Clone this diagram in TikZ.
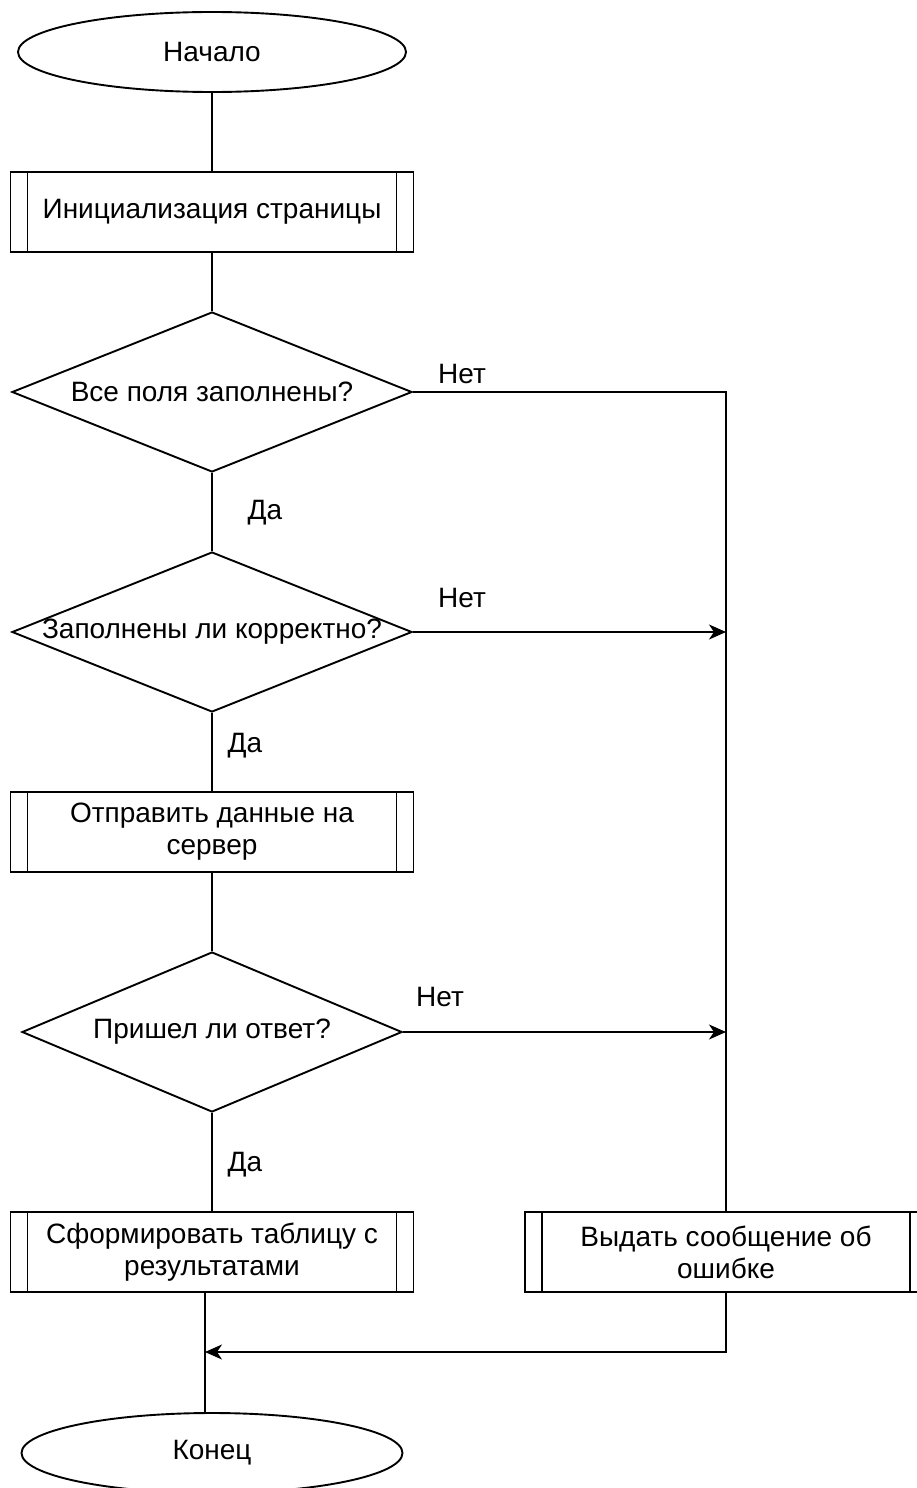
\documentclass[tikz,border=0pt]{standalone}
\usepackage{fontspec}
\setmainfont{Liberation Sans}
\usetikzlibrary{shapes.geometric,arrows.meta}

\tikzset{
	term/.style={shape=ellipse, draw, minimum width=388pt, minimum height=80pt, inner sep=0pt},
	proc/.style={shape=rectangle, draw, minimum width=403pt, minimum height=80pt, inner sep=0pt, align=center,
		path picture={
			\draw ([xshift=17pt]path picture bounding box.north west) -- ([xshift=17pt]path picture bounding box.south west);
			\draw ([xshift=-17pt]path picture bounding box.north east) -- ([xshift=-17pt]path picture bounding box.south east);
		}},
	cond/.style={shape=diamond, draw, minimum width=400pt, minimum height=160pt, inner sep=0pt},
	every node/.append style={font=\fontsize{28}{32}\selectfont}
}

\begin{document}
\begin{tikzpicture}[x=1pt, y=-1pt, line width=1.9pt, >={Stealth[length=17pt,width=15pt,inset=5pt]}]
	\useasboundingbox (0,0) rectangle (917,1488);

	\node[term] (1) at (212,52) {Начало};
	\node[proc] (2) at (212,212) {Инициализация страницы};
	\node[cond, label=center:{Все поля заполнены?}] (3) at (212,392) {};
	\node[cond, label=center:{Заполнены ли корректно?}] (4) at (212,632) {};
	\node[proc] (5) at (212,832) {Отправить данные на\\сервер};
	\node[cond, minimum width=380pt, label=center:{Пришел ли ответ?}] (6) at (212,1032) {};
	\node[proc] (7) at (212,1252) {Сформировать таблицу с\\результатами};
	\node[term, minimum width=381pt] (8) at (212,1453) {Конец};
	\node[proc, minimum width=402pt] (9) at (726,1252) {Выдать сообщение об\\ошибке};

	\coordinate (j1) at (726,632);
	\coordinate (j2) at (726,1032);
	\coordinate (j3) at (205,1352);

	\node (n1) at (462,374) {Нет};
	\node (n2) at (265,513) {Да};
	\node (n3) at (462,598) {Нет};
	\node (n4) at (245,746) {Да};
	\node (n5) at (440,997) {Нет};
	\node (n6) at (245,1165) {Да};

	\path [-]
	(1) edge (2)
	(2) edge (3)
	(3) edge (4)
	(4) edge (5)
	(5) edge (6)
	(6) edge (7)
	(7.south -| j3) edge (8.north -| j3);

	\path [->]
	(4.east) edge (j1)
	(6.east) edge (j2);

	\draw (3.east) -| (9.north);
	\draw [->] (9.south) |- (j3);
\end{tikzpicture}
\end{document}
